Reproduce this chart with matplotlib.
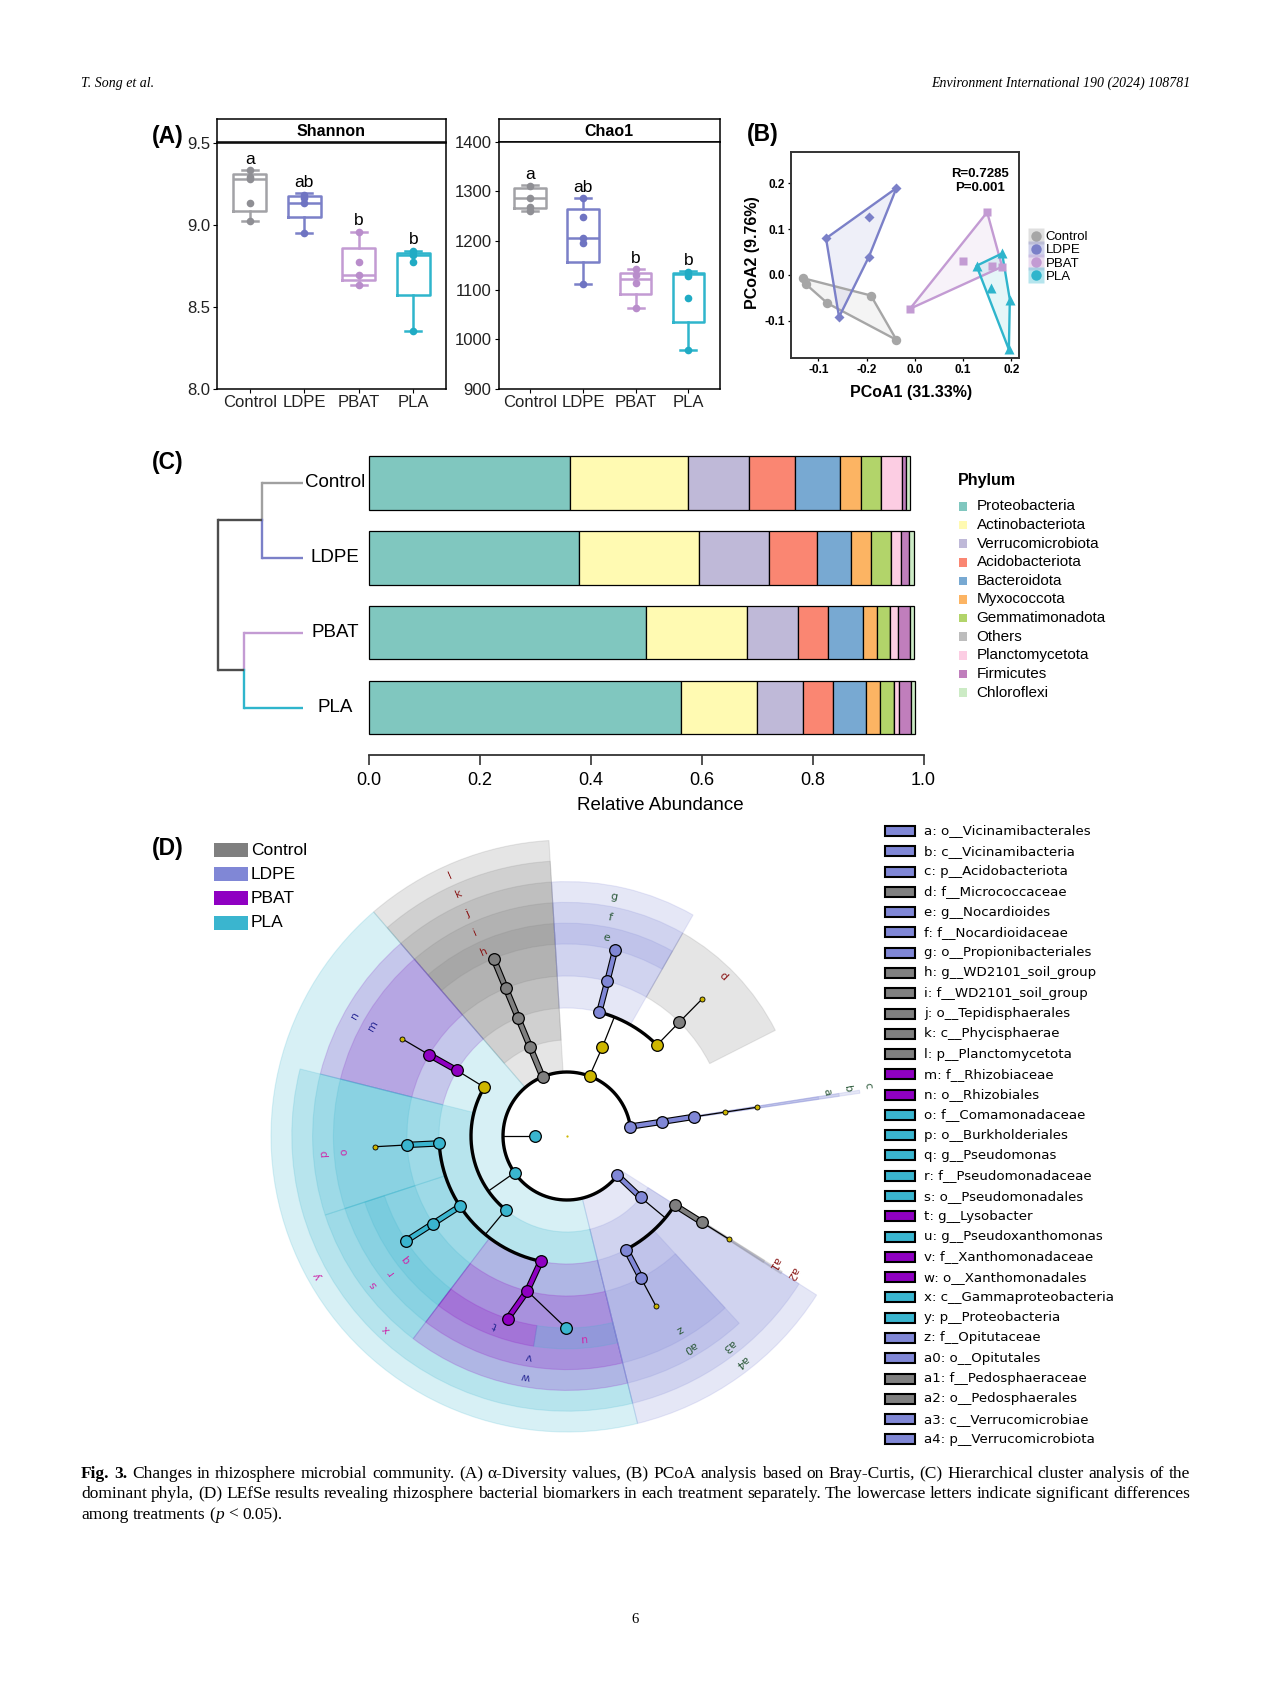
import numpy as np
import matplotlib
matplotlib.use("Agg")
import matplotlib.pyplot as plt
from matplotlib.patches import Wedge, Rectangle, Polygon
from matplotlib.lines import Line2D
import matplotlib.patheffects as pe
from matplotlib import font_manager as fm

# ======================= DATA =======================
groups = ["Control", "LDPE", "PBAT", "PLA"]

# (A) alpha diversity – Shannon
shannon_points = [[9.33, 9.29, 9.28, 9.13, 9.02],
                  [9.18, 9.16, 9.13, 8.95],
                  [8.955, 8.77, 8.69, 8.63],
                  [8.84, 8.815, 8.77, 8.35]]
shannon_q1 = [9.08, 9.047, 8.66, 8.57]
shannon_med = [9.28, 9.133, 8.69, 8.815]
shannon_q3 = [9.31, 9.174, 8.855, 8.825]
shannon_lo = [9.02, 8.95, 8.633, 8.35]
shannon_hi = [9.33, 9.19, 8.955, 8.84]
shannon_letters = ["a", "ab", "b", "b"]

# (A) alpha diversity – Chao1
chao1_points = [[1311, 1287, 1268, 1261],
                [1286, 1247, 1205, 1196, 1112],
                [1142, 1131, 1114, 1063],
                [1137, 1128, 1084, 978]]
chao1_q1 = [1267, 1157, 1092, 1034]
chao1_med = [1286, 1205, 1123, 1132]
chao1_q3 = [1307, 1264, 1134, 1134]
chao1_lo = [1260, 1112, 1063, 978]
chao1_hi = [1312, 1286, 1142, 1138]
chao1_letters = ["a", "ab", "b", "b"]

# (B) PCoA
pc1_control = [-0.232, -0.226, -0.181, -0.091, -0.038]
pc2_control = [-0.007, -0.020, -0.062, -0.045, -0.142]
pc1_ldpe = [-0.038, -0.095, -0.184, -0.095, -0.157]
pc2_ldpe = [0.190, 0.126, 0.080, 0.040, -0.092]
pc1_pbat = [0.150, 0.100, 0.160, 0.181, -0.010]
pc2_pbat = [0.137, 0.031, 0.020, 0.018, -0.074]
pc1_pla = [0.128, 0.181, 0.157, 0.197, 0.195]
pc2_pla = [0.020, 0.047, -0.029, -0.054, -0.163]
pcoa_x_ticks = [-0.2, -0.1, 0.0, 0.1, 0.2]
pcoa_x_ticklabels = ["-0.1", "-0.2", "0.0", "0.1", "0.2"]
pcoa_y_ticks = [-0.1, 0.0, 0.1, 0.2]
anosim_text = "R=0.7285\nP=0.001"

# (C) phylum relative abundance
phyla = ["Proteobacteria", "Actinobacteriota", "Verrucomicrobiota", "Acidobacteriota",
         "Bacteroidota", "Myxococcota", "Gemmatimonadota", "Others", "Planctomycetota",
         "Firmicutes", "Chloroflexi"]
abund_control = [0.363, 0.213, 0.109, 0.083, 0.081, 0.038, 0.037, 0.0, 0.037, 0.007, 0.008]
abund_ldpe = [0.378, 0.217, 0.126, 0.086, 0.062, 0.036, 0.037, 0.0, 0.018, 0.014, 0.009]
abund_pbat = [0.499, 0.182, 0.092, 0.055, 0.063, 0.025, 0.024, 0.0, 0.014, 0.022, 0.006]
abund_pla = [0.563, 0.137, 0.083, 0.053, 0.060, 0.025, 0.025, 0.0, 0.009, 0.023, 0.006]
abund_ticks = [0.0, 0.2, 0.4, 0.6, 0.8, 1.0]
# hierarchical clustering (relative merge heights)
merge_pairs = [(0, 1), (2, 3)]
merge_heights = [0.48, 0.69]
root_height = 1.0

# (D) LEfSe cladogram
clade_names = ["root", "k__Bacteria",
               "p__Acidobacteriota", "p__Actinobacteriota", "p__Planctomycetota", "p__Proteobacteria",
               "p__Verrucomicrobiota",
               "c__Vicinamibacteria", "c__Actinobacteria", "c__Phycisphaerae", "c__Alphaproteobacteria",
               "c__Gammaproteobacteria", "c__Verrucomicrobiae",
               "o__Vicinamibacterales", "o__Micrococcales", "o__Propionibacteriales", "o__Tepidisphaerales",
               "o__Rhizobiales", "o__Burkholderiales", "o__Pseudomonadales", "o__Xanthomonadales",
               "o__Opitutales", "o__Pedosphaerales",
               "f__Vicinamibacterales_uncl", "f__Micrococcaceae", "f__Nocardioidaceae", "f__WD2101_soil_group",
               "f__Rhizobiaceae", "f__Comamonadaceae", "f__Pseudomonadaceae", "f__Xanthomonadaceae",
               "f__Opitutaceae", "f__Pedosphaeraceae",
               "g__Vicinamibacterales_uncl", "g__Micrococcaceae_uncl", "g__Nocardioides", "g__WD2101_soil_group",
               "g__Rhizobiaceae_uncl", "g__Comamonadaceae_uncl", "g__Pseudomonas", "g__Lysobacter",
               "g__Pseudoxanthomonas", "g__Opitutaceae_uncl", "g__Pedosphaeraceae_uncl"]
clade_letters = ["", "",
                 "c", "", "l", "y", "a4",
                 "b", "", "k", "", "x", "a3",
                 "a", "", "g", "j", "n", "p", "s", "w", "a0", "a2",
                 "", "d", "f", "i", "m", "o", "r", "v", "z", "a1",
                 "", "", "e", "h", "", "", "q", "t", "u", "", ""]
clade_levels = [-1, 0,
                1, 1, 1, 1, 1,
                2, 2, 2, 2, 2, 2,
                3, 3, 3, 3, 3, 3, 3, 3, 3, 3,
                4, 4, 4, 4, 4, 4, 4, 4, 4, 4,
                5, 5, 5, 5, 5, 5, 5, 5, 5, 5, 5]
clade_angles = [0.0, 180.0,
                8.5, 69.4, 112.5, 215.0, 322.0,
                8.5, 68.3, 112.5, 149.5, 230.3, 320.2,
                8.6, 45.3, 75.4, 112.5, 149.2, 183.3, 213.3, 258.2, 297.5, 327.3,
                8.6, 45.4, 75.4, 112.5, 149.5, 183.2, 213.2, 255.6, 297.5, 327.4,
                8.6, 45.4, 75.5, 112.5, 149.5, 183.2, 213.1, 252.0, 269.7, 297.6, 327.5]
clade_groups = ["", "PLA",
                "LDPE", "", "Control", "PLA", "LDPE",
                "LDPE", "", "Control", "", "PLA", "LDPE",
                "LDPE", "", "LDPE", "Control", "PBAT", "PLA", "PLA", "PBAT", "LDPE", "Control",
                "", "Control", "LDPE", "Control", "PBAT", "PLA", "PLA", "PBAT", "LDPE", "Control",
                "", "", "LDPE", "Control", "", "", "PLA", "PBAT", "PLA", "", ""]
clade_parents = [-1, 0,
                 1, 1, 1, 1, 1,
                 2, 3, 4, 5, 5, 6,
                 7, 8, 8, 9, 10, 11, 11, 11, 12, 12,
                 13, 14, 15, 16, 17, 18, 19, 20, 21, 22,
                 23, 24, 25, 26, 27, 28, 29, 30, 30, 31, 32]
minor_clades = ["f__Vicinamibacterales_uncl", "g__Vicinamibacterales_uncl", "g__Micrococcaceae_uncl",
                "g__Rhizobiaceae_uncl", "g__Comamonadaceae_uncl", "g__Opitutaceae_uncl",
                "g__Pedosphaeraceae_uncl"]
# angular extent of the shaded sectors of each biomarker
wedge_letters = ["l", "k", "j", "i", "h", "g", "f", "e", "d", "c", "b", "a", "n", "m",
                 "y", "x", "p", "o", "s", "r", "q", "w", "v", "t", "u",
                 "a4", "a3", "a0", "z", "a2", "a1"]
wedge_start = [93.5, 93.5, 93.5, 93.5, 93.5, 60.3, 60.3, 60.3, 26.9, 8.3, 8.3, 8.3, 130.8, 130.8,
               130.8, 165.9, 165.9, 165.9, 198.1, 198.1, 198.1, 232.8, 232.8, 232.8, 261.0,
               283.8, 283.8, 283.8, 283.8, 327.2, 327.2]
wedge_end = [130.8, 130.8, 130.8, 130.8, 130.8, 93.5, 93.5, 93.5, 60.3, 8.9, 8.9, 8.9, 165.9, 165.9,
             283.8, 283.8, 198.1, 198.1, 232.8, 232.8, 232.8, 283.8, 283.8, 261.0, 283.8,
             327.5, 327.5, 312.6, 312.6, 327.8, 327.8]

# ======================= FIGURE =======================
W, H = 1269, 1692
fig = plt.figure(figsize=(W / 100, H / 100), dpi=100)


def has_font(name):
    try:
        fm.findfont(fm.FontProperties(family=name), fallback_to_default=False)
        return True
    except Exception:
        return False


SANS = "Liberation Sans"
NARROW = "Liberation Sans Narrow" if has_font("Liberation Sans Narrow") else "Liberation Sans"
SERIF = "Liberation Serif"
plt.rcParams["font.family"] = [SANS, "DejaVu Sans"]


def px_rect(l, t, r, b):
    return [l / W, 1 - b / H, (r - l) / W, (b - t) / H]


def fx(x):
    return x / W


def fy(y):
    return 1 - y / H


# header / footer
fig.text(fx(81), fy(83), "T. Song et al.", family=SERIF, style="italic", fontsize=10, va="center")
fig.text(fx(1190), fy(83), "Environment International 190 (2024) 108781", family=SERIF,
         style="italic", fontsize=10, va="center", ha="right")
fig.text(fx(635), fy(1619), "6", family=SERIF, fontsize=10.5, va="center", ha="center")

# panel labels
for lab, x, y, fam in [("(A)", 152, 137, SANS), ("(B)", 747, 135, SANS),
                       ("(C)", 152, 462, NARROW), ("(D)", 152, 848, SANS)]:
    fig.text(fx(x), fy(y), lab, fontsize=16.5, fontweight="bold", va="center", ha="left", family=fam)

# ------------------ Panel A ------------------
box_col = ["#a2a2a6", "#7b80c8", "#c39bd3", "#2fb5cc"]
pt_col = ["#8f8f94", "#6f74c2", "#b98dcb", "#20abc4"]


def box_panel(l, r, t, sb, b, title, pts, q1, med, q3, lo, hi, letters, ylim, yticks, ytl):
    sax = fig.add_axes(px_rect(l, t, r, sb))
    sax.set_xticks([])
    sax.set_yticks([])
    for s in sax.spines.values():
        s.set_linewidth(1.1)
    sax.text(0.5, 0.45, title, transform=sax.transAxes, ha="center", va="center",
             fontsize=11.5, fontweight="bold")
    ax = fig.add_axes(px_rect(l, sb, r, b))
    rng = ylim[1] - ylim[0]
    for i in range(4):
        st = [dict(med=med[i], q1=q1[i], q3=q3[i], whislo=lo[i], whishi=hi[i], fliers=[])]
        c = box_col[i]
        lp = dict(color=c, lw=1.8)
        ax.bxp(st, positions=[i + 1], widths=0.6, capwidths=0.3, showfliers=False,
               manage_ticks=False, boxprops=lp, medianprops=lp, whiskerprops=lp, capprops=lp)
        ax.plot([i + 1] * len(pts[i]), pts[i], "o", color=pt_col[i], ms=5.5, mec="none", zorder=4)
        ax.text(i + 1, hi[i] + 0.045 * rng, letters[i], ha="center", va="center", fontsize=12.5)
    ax.set_xlim(0.4, 4.6)
    ax.set_ylim(*ylim)
    ax.set_xticks(range(1, 5))
    ax.set_xticklabels(groups, fontsize=12)
    ax.set_yticks(yticks)
    ax.set_yticklabels(ytl, fontsize=12)
    ax.tick_params(length=3, width=0.8, pad=2, labelcolor="#222222")
    for s in ax.spines.values():
        s.set_linewidth(1.1)
    return ax


box_panel(217, 446, 119, 142.5, 388.5, "Shannon", shannon_points, shannon_q1, shannon_med,
          shannon_q3, shannon_lo, shannon_hi, shannon_letters, (8.0, 9.5),
          [8.0, 8.5, 9.0, 9.5], ["8.0", "8.5", "9.0", "9.5"])
box_panel(498.5, 720, 119, 142, 388.5, "Chao1", chao1_points, chao1_q1, chao1_med,
          chao1_q3, chao1_lo, chao1_hi, chao1_letters, (900, 1400),
          [900, 1000, 1100, 1200, 1300, 1400], ["900", "1000", "1100", "1200", "1300", "1400"])

# ------------------ Panel B ------------------
pc_col = ["#a6a6a6", "#7b80c8", "#c39bd3", "#2fb5cc"]
pc_mark = ["o", "D", "s", "^"]
pc_ms = [6.8, 4.8, 6.3, 7.0]


def convex_hull(pts):
    pts = sorted(set(pts))
    if len(pts) <= 2:
        return pts

    def cross(o, a, b):
        return (a[0] - o[0]) * (b[1] - o[1]) - (a[1] - o[1]) * (b[0] - o[0])
    lower, upper = [], []
    for p in pts:
        while len(lower) >= 2 and cross(lower[-2], lower[-1], p) <= 0:
            lower.pop()
        lower.append(p)
    for p in reversed(pts):
        while len(upper) >= 2 and cross(upper[-2], upper[-1], p) <= 0:
            upper.pop()
        upper.append(p)
    return lower[:-1] + upper[:-1]


axb = fig.add_axes(px_rect(791, 152, 1019, 358))
pc_data = [(pc1_control, pc2_control), (pc1_ldpe, pc2_ldpe), (pc1_pbat, pc2_pbat), (pc1_pla, pc2_pla)]
for i, (xs, ys) in enumerate(pc_data):
    hull = convex_hull(list(zip(xs, ys)))
    axb.add_patch(Polygon(hull, closed=True, facecolor=pc_col[i], alpha=0.12, edgecolor="none", zorder=1))
    axb.add_patch(Polygon(hull, closed=True, fill=False, edgecolor=pc_col[i], lw=1.7, zorder=2,
                          joinstyle="round"))
    axb.plot(xs, ys, pc_mark[i], color=pc_col[i], ms=pc_ms[i], mec="none", zorder=3)
axb.set_xlim(-0.2566, 0.216)
axb.set_ylim(-0.1816, 0.2687)
axb.set_xticks(pcoa_x_ticks)
axb.set_xticklabels(pcoa_x_ticklabels, fontsize=8.5, fontweight="bold")
axb.set_yticks(pcoa_y_ticks)
axb.set_yticklabels(["-0.1", "0.0", "0.1", "0.2"], fontsize=8.5, fontweight="bold")
axb.tick_params(length=2.5, width=0.9, pad=2)
for s in axb.spines.values():
    s.set_linewidth(1.4)
    s.set_color("#333333")
axb.text(0.83, 0.86, anosim_text, transform=axb.transAxes, ha="center", va="center",
         fontsize=9.5, fontweight="bold", linespacing=1.25)
fig.text(fx(911), fy(392), "PCoA1 (31.33%)", ha="center", va="center", fontsize=11.5, fontweight="bold")
fig.text(fx(753), fy(253), "PCoA2 (9.76%)", ha="center", va="center", fontsize=11.5,
         fontweight="bold", rotation=90)
handles = []
for i in range(4):
    sq = Line2D([], [], marker="s", ls="", ms=11, color=pc_col[i], alpha=0.35, mec="none")
    ci = Line2D([], [], marker="o", ls="", ms=7.5, color=pc_col[i], mec="none")
    handles.append((sq, ci))
fig.legend(handles, groups, loc="center left", bbox_to_anchor=(fx(1029), fy(257)),
           frameon=False, fontsize=9.5, handlelength=1.0, handletextpad=0.25,
           labelspacing=0.08, borderpad=0, borderaxespad=0)

# ------------------ Panel C ------------------
phylum_col = ["#80c7bf", "#fffab2", "#bfb9d8", "#fa8672", "#78a9d2", "#fcb463", "#b2d46a",
              "#bdbdbd", "#fccde3", "#c07ebc", "#ccebc5"]
abund = [abund_control, abund_ldpe, abund_pbat, abund_pla]
x0px, x1px = 369.0, 923.6
ppu = x1px - x0px
axc = fig.add_axes(px_rect(x0px - 0.305 * ppu, 449.25, x1px, 755))
axc.set_xlim(-0.305, 1.0)
axc.set_ylim(3.627, -0.45)
for j in range(4):
    left = 0.0
    for k in range(len(phyla)):
        axc.barh(j, abund[j][k], left=left, height=0.707, color=phylum_col[k],
                 edgecolor="black", lw=0.9, zorder=2)
        left += abund[j][k]
for s in ["top", "right", "left"]:
    axc.spines[s].set_visible(False)
axc.spines["bottom"].set_bounds(0, 1)
axc.spines["bottom"].set_linewidth(1.3)
axc.spines["bottom"].set_color("#333333")
axc.set_yticks([])
axc.set_xticks(abund_ticks)
axc.set_xticklabels(["%.1f" % t for t in abund_ticks], fontsize=13, family=NARROW)
axc.tick_params(axis="x", length=7, width=1.2, pad=5, color="#333333")
fig.text(fx(660), fy(806), "Relative Abundance", ha="center", va="center", fontsize=13.5, family=NARROW)

# dendrogram
dend_col = ["#a0a0a0", "#7b80c8", "#c39bd3", "#2fb5cc"]
dark = "#4d4d4d"


def xd(h):
    return -0.119 - h * 0.153


dlw = 1.7
merge_y = []
for (a, b), h in zip(merge_pairs, merge_heights):
    for leaf in (a, b):
        axc.plot([xd(0), xd(h)], [leaf, leaf], color=dend_col[leaf], lw=dlw, clip_on=False,
                 solid_capstyle="butt")
    mid = (a + b) / 2
    axc.plot([xd(h), xd(h)], [a, mid], color=dend_col[a], lw=dlw, clip_on=False)
    axc.plot([xd(h), xd(h)], [mid, b], color=dend_col[b], lw=dlw, clip_on=False)
    axc.plot([xd(h), xd(root_height)], [mid, mid], color=dark, lw=dlw, clip_on=False,
             solid_capstyle="butt")
    merge_y.append(mid)
axc.plot([xd(root_height)] * 2, merge_y, color=dark, lw=dlw, clip_on=False, solid_capstyle="projecting")
for j, g in enumerate(groups):
    axc.text(-0.061, j, g, ha="center", va="center", fontsize=13.5, family=NARROW)

# phylum legend
fig.text(fx(958), fy(481), "Phylum", fontsize=11.5, fontweight="bold", family=NARROW, va="center")
for k, p in enumerate(phyla):
    yy = 506.5 + 18.6 * k
    fig.add_artist(Rectangle((fx(958.5), fy(yy + 4.3)), 8.6 / W, 8.6 / H, transform=fig.transFigure,
                             facecolor=phylum_col[k], edgecolor="none"))
    fig.text(fx(976.5), fy(yy), p, fontsize=11, family=NARROW, va="center")

# ------------------ Panel D ------------------
grp_clade_col = {"Control": "#7f7f7f", "LDPE": "#8087d6", "PBAT": "#8f00c2", "PLA": "#3ab5cf"}
label_col = {"Control": "#8b1a1a", "LDPE": "#2e5b3c", "PBAT": "#2b2b96", "PLA": "#cc2aaa"}
yellow = "#cdb600"
CX, CY, UNIT = 567.0, 1136.0, 32.0
half = 10.0
axd = fig.add_axes(px_rect(CX - half * UNIT, CY - half * UNIT, CX + half * UNIT, CY + half * UNIT))
axd.set_xlim(-half, half)
axd.set_ylim(-half, half)
axd.set_aspect("equal")
axd.axis("off")


def rad(level):
    return level + 1.0


def pol(a, r):
    t = np.radians(a)
    return r * np.cos(t), r * np.sin(t)


def outer_r(level):
    return 6.0 + 0.65 * (6 - level)


letter_idx = {l: i for i, l in enumerate(clade_letters) if l}

# shaded sectors
for l, s, e in zip(wedge_letters, wedge_start, wedge_end):
    i = letter_idx[l]
    L = clade_levels[i]
    c = grp_clade_col[clade_groups[i]]
    ro, ri = outer_r(L), rad(L)
    axd.add_patch(Wedge((0, 0), ro, s, e, width=ro - ri, facecolor=c, alpha=0.2,
                        edgecolor="none", zorder=1))
    axd.add_patch(Wedge((0, 0), ro, s, e, width=ro - ri, facecolor="none",
                        edgecolor=c, alpha=0.18, lw=0.8, zorder=1))

# links
children = {}
for i, p in enumerate(clade_parents):
    if p >= 0:
        children.setdefault(p, []).append(i)


def link(p, c):
    xp, yp = pol(clade_angles[p], rad(clade_levels[p]))
    xc, yc = pol(clade_angles[c], rad(clade_levels[c]))
    gp, gc = clade_groups[p], clade_groups[c]
    if gp and gc and gp == gc:
        axd.plot([xp, xc], [yp, yc], color=grp_clade_col[gc], lw=3.0, zorder=3, solid_capstyle="butt",
                 path_effects=[pe.Stroke(linewidth=4.6, foreground="black"), pe.Normal()])
    else:
        axd.plot([xp, xc], [yp, yc], color="black", lw=0.9, zorder=3)


for p, ch in children.items():
    if p == 0:
        continue
    if len(ch) > 1 and clade_levels[ch[0]] < 5:
        angs = [clade_angles[c] for c in ch] + [clade_angles[p]]
        rr = rad(clade_levels[ch[0]])
        t = np.linspace(min(angs), max(angs), 300)
        axd.plot(rr * np.cos(np.radians(t)), rr * np.sin(np.radians(t)), color="black", lw=2.4,
                 zorder=3, solid_capstyle="round")
        x0_, y0_ = pol(clade_angles[p], rad(clade_levels[p]))
        x1_, y1_ = pol(clade_angles[p], rr)
        axd.plot([x0_, x1_], [y0_, y1_], color="black", lw=0.9, zorder=3)
    else:
        for c in ch:
            link(p, c)

# nodes
for i in range(len(clade_names)):
    g = clade_groups[i]
    col = grp_clade_col[g] if g else yellow
    x, y = pol(clade_angles[i], rad(clade_levels[i]))
    if clade_levels[i] < 0:
        axd.plot(x, y, "o", ms=1.6, color=yellow, mec="none", zorder=5)
    elif clade_names[i] in minor_clades:
        axd.plot(x, y, "o", ms=3.6, color=col, mec="black", mew=0.6, zorder=5)
    else:
        axd.plot(x, y, "o", ms=8.4, color=col, mec="black", mew=0.9, zorder=5)

# sector labels
for l, s, e in zip(wedge_letters, wedge_start, wedge_end):
    i = letter_idx[l]
    L = clade_levels[i]
    thin = (e - s) < 2
    if thin:
        a = (s + e) / 2 + 1.0
        r = outer_r(L) + 0.3
    else:
        a = (s + e) / 2 + 2.0
        r = outer_r(L) - 0.325
    x, y = pol(a, r)
    axd.text(x, y, l, rotation=a - 90, rotation_mode="anchor", ha="center", va="center",
             fontsize=8, color=label_col[clade_groups[i]], family="DejaVu Sans", zorder=6)

# group legend (top-left of D)
for k, g in enumerate(groups):
    yy = 850 + 24.2 * k
    fig.add_artist(Rectangle((fx(213.5), fy(yy + 7)), 34.5 / W, 14 / H, transform=fig.transFigure,
                             facecolor=grp_clade_col[g], edgecolor="none"))
    fig.text(fx(251), fy(yy), g, fontsize=12.5, va="center")

# biomarker legend (right)
order = sorted(letter_idx.keys(), key=lambda s: (len(s), s))
for k, l in enumerate(order):
    i = letter_idx[l]
    yy = 831 + 20.28 * k
    fig.add_artist(Rectangle((fx(885), fy(yy + 5)), 30 / W, 10 / H, transform=fig.transFigure,
                             facecolor=grp_clade_col[clade_groups[i]], edgecolor="black", lw=1.5))
    fig.text(fx(924), fy(yy), "%s: %s" % (l, clade_names[i]), fontsize=9.6, va="center",
             family="DejaVu Sans")

# ------------------ Caption ------------------
renderer = fig.canvas.get_renderer()


def place_tokens(tokens, y, x0, x1, fs, justify=True):
    arts = []
    for txt, wt, st, gap_before in tokens:
        arts.append(fig.text(0, fy(y), txt, fontsize=fs, family=SERIF, fontweight=wt,
                             fontstyle=st, va="center", ha="left"))
    widths = [a.get_window_extent(renderer).width for a in arts]
    nat_sp = fs * 100 / 72 * 0.25
    ngaps = sum(1 for t in tokens[1:] if t[3])
    if justify and ngaps:
        sp = max((x1 - x0 - sum(widths)) / ngaps, 0.6 * nat_sp)
    else:
        sp = nat_sp
    x = x0
    for a, wd, t in zip(arts, widths, tokens):
        if t[3] and a is not arts[0]:
            x += sp
        a.set_x(x / W)
        x += wd


def words(s, wt="normal", st="normal"):
    return [(w, wt, st, True) for w in s.split()]


cap_fs = 12.5
line1 = words("Fig. 3.", "bold") + words(
    "Changes in rhizosphere microbial community. (A) \u03b1-Diversity values, (B) PCoA analysis "
    "based on Bray-Curtis, (C) Hierarchical cluster analysis of the")
line2 = words("dominant phyla, (D) LEfSe results revealing rhizosphere bacterial biomarkers in each "
              "treatment separately. The lowercase letters indicate significant differences")
line3 = words("among treatments") + [("(", "normal", "normal", True), ("p", "normal", "italic", False),
                                     ("<", "normal", "normal", True), ("0.05).", "normal", "normal", True)]
place_tokens(line1, 1474, 81, 1190, cap_fs, True)
place_tokens(line2, 1494.5, 81, 1190, cap_fs, True)
place_tokens(line3, 1515, 81, 1190, cap_fs, False)

fig.savefig("out.png", dpi=100)
